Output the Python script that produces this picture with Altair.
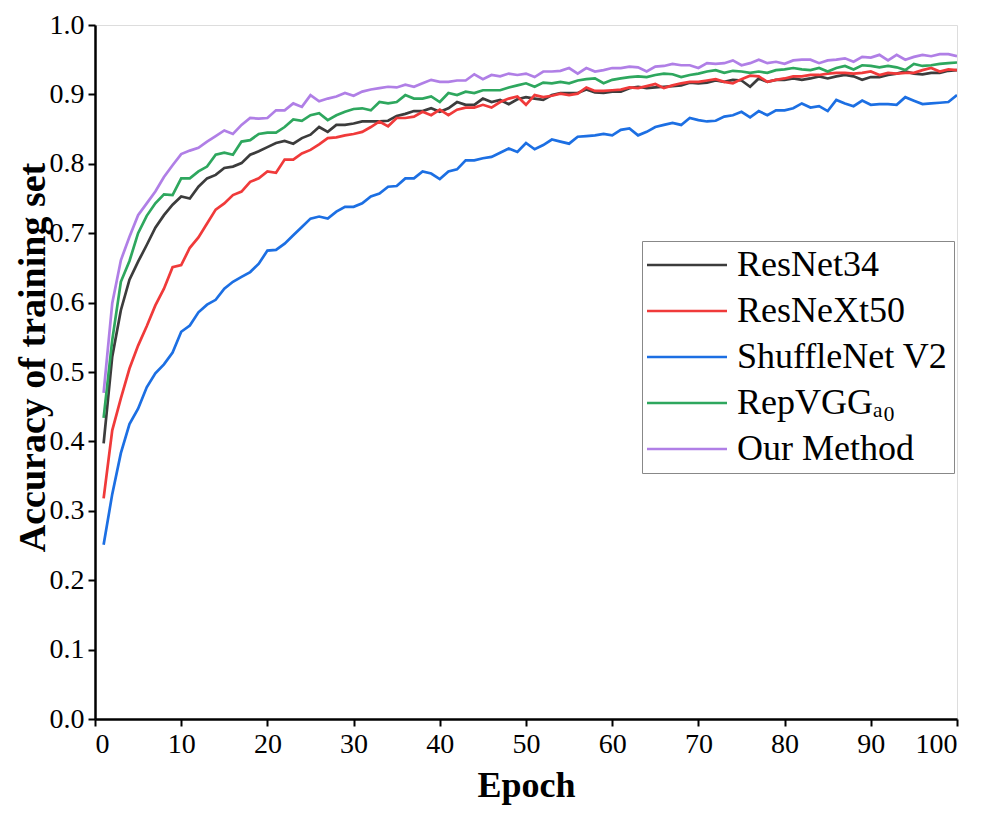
import altair as alt
import pandas as pd

epochs = list(range(1, 101))

resnet34 = [
    0.397, 0.522, 0.589, 0.633, 0.659, 0.683, 0.708, 0.726, 0.741, 0.753,
    0.750, 0.767, 0.779, 0.784, 0.794, 0.796, 0.801, 0.813, 0.818, 0.824,
    0.830, 0.833, 0.829, 0.837, 0.842, 0.853, 0.846, 0.856, 0.856, 0.858,
    0.861, 0.861, 0.861, 0.862, 0.869, 0.872, 0.876, 0.876, 0.880, 0.875,
    0.880, 0.889, 0.885, 0.885, 0.894, 0.889, 0.892, 0.886, 0.893, 0.896,
    0.894, 0.892, 0.899, 0.902, 0.902, 0.902, 0.907, 0.903, 0.902, 0.904,
    0.904, 0.909, 0.911, 0.909, 0.910, 0.911, 0.912, 0.913, 0.917, 0.916,
    0.917, 0.920, 0.918, 0.921, 0.920, 0.911, 0.923, 0.918, 0.921, 0.921,
    0.923, 0.921, 0.923, 0.926, 0.923, 0.926, 0.928, 0.926, 0.921, 0.925,
    0.925, 0.928, 0.930, 0.933, 0.930, 0.929, 0.931, 0.931, 0.934, 0.935,
]

resnext50 = [
    0.318, 0.416, 0.462, 0.505, 0.538, 0.566, 0.596, 0.620, 0.651, 0.654,
    0.679, 0.694, 0.714, 0.734, 0.743, 0.755, 0.760, 0.774, 0.779, 0.789,
    0.787, 0.806, 0.806, 0.815, 0.820, 0.828, 0.837, 0.838, 0.841, 0.843,
    0.846, 0.853, 0.861, 0.854, 0.866, 0.866, 0.868, 0.875, 0.870, 0.878,
    0.870, 0.878, 0.881, 0.881, 0.885, 0.881, 0.889, 0.894, 0.897, 0.885,
    0.899, 0.896, 0.898, 0.901, 0.899, 0.901, 0.910, 0.905, 0.905, 0.906,
    0.907, 0.910, 0.909, 0.912, 0.915, 0.909, 0.913, 0.916, 0.918, 0.918,
    0.920, 0.922, 0.918, 0.916, 0.922, 0.927, 0.926, 0.918, 0.921, 0.923,
    0.926, 0.926, 0.928, 0.928, 0.930, 0.931, 0.931, 0.930, 0.931, 0.933,
    0.928, 0.931, 0.930, 0.931, 0.931, 0.935, 0.938, 0.933, 0.936, 0.935,
]

shufflenet_v2 = [
    0.251, 0.324, 0.383, 0.425, 0.447, 0.478, 0.498, 0.511, 0.528, 0.558,
    0.567, 0.586, 0.597, 0.604, 0.620, 0.630, 0.637, 0.644, 0.656, 0.675,
    0.676, 0.685, 0.697, 0.709, 0.721, 0.724, 0.721, 0.731, 0.738, 0.738,
    0.743, 0.753, 0.757, 0.767, 0.768, 0.779, 0.779, 0.789, 0.786, 0.778,
    0.789, 0.792, 0.805, 0.805, 0.808, 0.810, 0.816, 0.822, 0.817, 0.830,
    0.821, 0.827, 0.835, 0.832, 0.829, 0.839, 0.840, 0.841, 0.843, 0.841,
    0.849, 0.851, 0.841, 0.846, 0.853, 0.856, 0.859, 0.856, 0.866, 0.863,
    0.861, 0.862, 0.868, 0.870, 0.875, 0.867, 0.876, 0.870, 0.877, 0.877,
    0.880, 0.887, 0.881, 0.883, 0.876, 0.892, 0.887, 0.883, 0.891, 0.885,
    0.886, 0.886, 0.885, 0.896, 0.891, 0.886, 0.887, 0.888, 0.889, 0.899,
]

repvgg_a0 = [
    0.434, 0.546, 0.630, 0.660, 0.700, 0.725, 0.743, 0.756, 0.755, 0.779,
    0.779, 0.789, 0.796, 0.813, 0.816, 0.813, 0.832, 0.834, 0.843, 0.845,
    0.845, 0.853, 0.864, 0.862, 0.870, 0.873, 0.863, 0.870, 0.875, 0.879,
    0.880, 0.877, 0.889, 0.887, 0.889, 0.899, 0.894, 0.894, 0.897, 0.889,
    0.902, 0.899, 0.904, 0.902, 0.906, 0.906, 0.906, 0.910, 0.913, 0.916,
    0.911, 0.917, 0.916, 0.918, 0.916, 0.920, 0.922, 0.923, 0.916, 0.921,
    0.923, 0.925, 0.926, 0.925, 0.928, 0.930, 0.929, 0.925, 0.928, 0.930,
    0.933, 0.935, 0.931, 0.934, 0.933, 0.931, 0.933, 0.931, 0.935, 0.936,
    0.938, 0.936, 0.935, 0.938, 0.933, 0.938, 0.941, 0.936, 0.942, 0.941,
    0.939, 0.941, 0.939, 0.935, 0.944, 0.941, 0.942, 0.944, 0.945, 0.946,
]

our_method = [
    0.470, 0.599, 0.661, 0.695, 0.726, 0.743, 0.760, 0.781, 0.798, 0.814,
    0.819, 0.823, 0.832, 0.840, 0.848, 0.843, 0.856, 0.866, 0.865, 0.866,
    0.877, 0.877, 0.887, 0.882, 0.899, 0.890, 0.894, 0.897, 0.902, 0.898,
    0.904, 0.907, 0.909, 0.911, 0.910, 0.914, 0.911, 0.916, 0.921, 0.918,
    0.918, 0.920, 0.920, 0.929, 0.922, 0.928, 0.926, 0.930, 0.928, 0.930,
    0.925, 0.933, 0.933, 0.934, 0.938, 0.930, 0.938, 0.933, 0.935, 0.938,
    0.938, 0.940, 0.939, 0.933, 0.940, 0.941, 0.944, 0.942, 0.942, 0.938,
    0.945, 0.944, 0.945, 0.949, 0.942, 0.945, 0.950, 0.945, 0.947, 0.944,
    0.949, 0.950, 0.950, 0.945, 0.949, 0.950, 0.952, 0.947, 0.954, 0.953,
    0.957, 0.949, 0.957, 0.950, 0.954, 0.957, 0.955, 0.958, 0.958, 0.955,
]

series_names = ["ResNet34", "ResNeXt50", "ShuffleNet V2", "RepVGG\u2090\u2080", "Our Method"]
series_values = [resnet34, resnext50, shufflenet_v2, repvgg_a0, our_method]
series_colors = ["#3c3c3c", "#f03a3a", "#1c6fe3", "#2ea75e", "#b07fe6"]

x_ticks = list(range(0, 101, 10))
y_ticks = [round(i * 0.1, 1) for i in range(11)]

rows = []
for name, vals in zip(series_names, series_values):
    for e, v in zip(epochs, vals):
        rows.append({"Epoch": e, "Accuracy": v, "Model": name})
df = pd.DataFrame(rows)

FONT = "Liberation Serif"

chart = alt.Chart(df).mark_line(strokeWidth=2.7, clip=True).encode(
    x=alt.X(
        "Epoch:Q",
        scale=alt.Scale(domain=[0, 100], nice=False, zero=False),
        axis=alt.Axis(
            values=x_ticks,
            title="Epoch",
            grid=False,
            labelFont=FONT,
            labelFontSize=28,
            labelColor="black",
            labelPadding=4,
            tickSize=7,
            tickWidth=2,
            tickColor="black",
            domainColor="black",
            domainWidth=2.5,
            titleFont=FONT,
            titleFontSize=36,
            titleFontWeight="bold",
            titleColor="black",
            titlePadding=10,
        ),
    ),
    y=alt.Y(
        "Accuracy:Q",
        scale=alt.Scale(domain=[0, 1], nice=False, zero=False),
        axis=alt.Axis(
            values=y_ticks,
            format=".1f",
            title="Accuracy of training set",
            grid=False,
            labelFont=FONT,
            labelFontSize=28,
            labelColor="black",
            labelPadding=4,
            tickSize=7,
            tickWidth=2,
            tickColor="black",
            domainColor="black",
            domainWidth=2.5,
            titleFont=FONT,
            titleFontSize=38,
            titleFontWeight="bold",
            titleColor="black",
            titlePadding=-3,
            titleY=332,
        ),
    ),
    color=alt.Color(
        "Model:N",
        scale=alt.Scale(domain=series_names, range=series_colors),
        sort=series_names,
        legend=alt.Legend(
            title=None,
            orient="none",
            legendX=547,
            legendY=216,
            symbolType="M-1.9,0H6.1",
            symbolSize=400,
            symbolStrokeWidth=2.5,
            labelFont=FONT,
            labelFontSize=36,
            labelColor="black",
            labelOffset=53,
            labelLimit=400,
            strokeColor="#888888",
            fillColor="white",
            padding=6,
            rowPadding=10,
        ),
    ),
    order=alt.Order("Epoch:Q"),
).properties(
    width=862,
    height=694,
    autosize=alt.AutoSizeParams(type="none"),
    padding={"left": 87, "top": 17, "right": 15, "bottom": 86},
).configure_view(stroke=None).configure(background="white")

chart.save("out.html", embed_options={"renderer": "svg", "actions": False})
